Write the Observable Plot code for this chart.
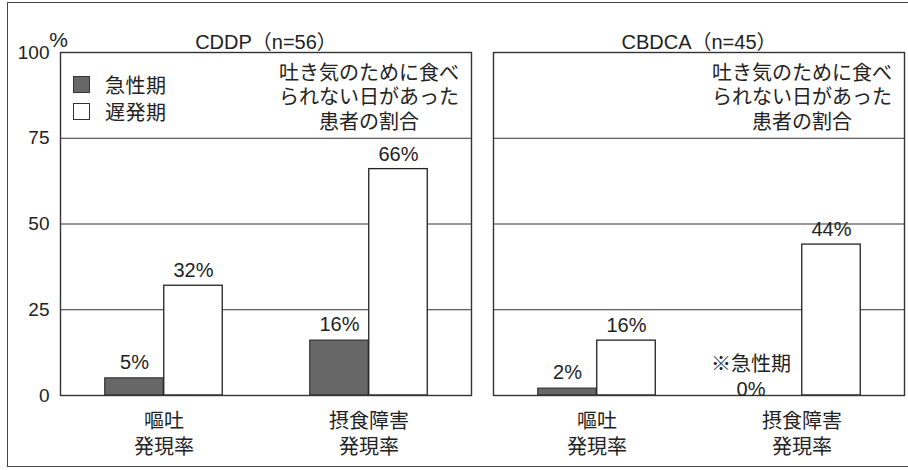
<!DOCTYPE html>
<html>
<head>
<meta charset="utf-8">
<script src="https://cdn.jsdelivr.net/npm/d3@7"></script>
<script src="https://cdn.jsdelivr.net/npm/@observablehq/plot@0.6"></script>
<style>
  html, body { margin: 0; padding: 0; background: #fff; }
  #wrap { position: relative; width: 908px; height: 470px; overflow: hidden; background: #fff;
          font-family: "Liberation Sans", "Noto Sans CJK JP", sans-serif; color: #222; }
  #outer { position: absolute; left: 7px; top: 2px; width: 920px; height: 465px;
           border: 1.5px solid #444; box-sizing: border-box; }
  #chart { position: absolute; left: 0; top: 0; }
  .lg { position: absolute; display: flex; align-items: center; font-size: 20px; letter-spacing: 0.5px; }
  .sw { width: 17px; height: 17px; box-sizing: border-box; border: 1.3px solid #333; margin-right: 15px; }
</style>
</head>
<body>
<div id="wrap">
  <div id="outer"></div>
  <div id="chart"></div>
</div>
<script>
// ---- data ----
const drugs = ["CDDP", "CBDCA"];
const drugTitles = ["CDDP（n=56）", "CBDCA（n=45）"];
const categories = ["嘔吐発現率", "摂食障害発現率"];
const categoryLabels = ["嘔吐\n発現率", "摂食障害\n発現率"];
const series = ["急性期", "遅発期"];
const seriesColors = ["#676767", "#ffffff"];
const acuteCDDP = [5, 16];
const lateCDDP = [32, 66];
const acuteCBDCA = [2, 0];
const lateCBDCA = [16, 44];
const yTicks = [0, 25, 50, 75, 100];
const gridTicks = [25, 50, 75];
const annotation = "吐き気のために食べ\nられない日があった\n患者の割合";
const zeroNote = "※急性期";

// ---- build rows ----
const rows = [];
const valuesBy = {CDDP: [acuteCDDP, lateCDDP], CBDCA: [acuteCBDCA, lateCBDCA]};
drugs.forEach(d => {
  series.forEach((s, si) => {
    categories.forEach((c, ci) => {
      rows.push({drug: d, series: s, category: c, value: valuesBy[d][si][ci]});
    });
  });
});
const acuteRows = rows.filter(r => r.series === series[0]);
const lateRows = rows.filter(r => r.series === series[1]);
const acuteLabelRows = acuteRows.filter(r => r.value > 0);
const acuteZeroRows = acuteRows.filter(r => r.value === 0);

// ---- layout ----
const W = 908, H = 470;
const mL = 60, mR = 4, mT = 52, mB = 75;
const fxPadInner = 22 / 433;
const fxStep = (W - mL - mR) / (2 - fxPadInner);
const facetW = fxStep * (1 - fxPadInner);
const xBandW = facetW / categories.length;
const barW = 59;
const half = xBandW / 2;

const font = '"Liberation Sans", "Noto Sans CJK JP", sans-serif';

const chart = Plot.plot({
  width: W, height: H,
  marginLeft: mL, marginRight: mR, marginTop: mT, marginBottom: mB,
  style: {fontFamily: font, fontSize: "18px", color: "#222", background: "transparent", overflow: "visible"},
  fx: {domain: drugs, paddingInner: fxPadInner, paddingOuter: 0, label: null},
  x: {domain: categories, padding: 0, label: null},
  y: {domain: [0, 100], label: null},
  marks: [
    Plot.gridY(gridTicks, {stroke: "#333", strokeOpacity: 1, strokeWidth: 1.2}),
    Plot.barY(acuteRows.filter(r => r.value > 0), {fx: "drug", x: "category", y: "value", fill: seriesColors[0], stroke: "#333", strokeWidth: 1.2,
      insetLeft: half - barW, insetRight: half}),
    Plot.barY(lateRows, {fx: "drug", x: "category", y: "value", fill: seriesColors[1], stroke: "#222", strokeWidth: 1.3,
      insetLeft: half, insetRight: half - barW}),
    Plot.frame({stroke: "#333", strokeWidth: 1.4}),
    Plot.axisY(yTicks, {tickSize: 0, tickPadding: 11, fontSize: 19, label: null}),
    Plot.axisX({tickSize: 0, tickPadding: 14, fontSize: 20, lineHeight: 1.3, label: null,
      tickFormat: c => categoryLabels[categories.indexOf(c)]}),
    Plot.axisFx({anchor: "top", tickSize: 0, tickPadding: 4, fontSize: 20, label: null,
      tickFormat: d => drugTitles[drugs.indexOf(d)]}),
    Plot.text([{drug: drugs[0]}], {fx: "drug", text: () => "%", frameAnchor: "top-left", textAnchor: "middle", lineAnchor: "middle",
      dx: -2, dy: -12, fontSize: 21}),
    Plot.text(acuteLabelRows, {fx: "drug", x: "category", y: "value", text: r => r.value + "%", dx: -barW / 2, dy: -16, fontSize: 20}),
    Plot.text(lateRows, {fx: "drug", x: "category", y: "value", text: r => r.value + "%", dx: barW / 2, dy: -15, fontSize: 20}),
    Plot.text(acuteZeroRows, {fx: "drug", x: "category", y: "value", text: r => zeroNote + "\n" + r.value + "%",
      dx: -51, dy: 0, lineAnchor: "bottom", lineHeight: 1.25, fontSize: 20}),
    Plot.text(drugs.map(d => ({drug: d, category: categories[1]})), {fx: "drug", x: "category", text: () => annotation,
      frameAnchor: "top", lineAnchor: "top", dy: 10, lineHeight: 1.22, fontSize: 20, letterSpacing: 0.5})
  ]
});
document.getElementById("chart").appendChild(chart);

// ---- legend (HTML) ----
const wrap = document.getElementById("wrap");
series.forEach((s, i) => {
  const item = document.createElement("div");
  item.className = "lg";
  item.style.left = "73px";
  item.style.top = (70 + i * 27) + "px";
  const sw = document.createElement("div");
  sw.className = "sw";
  sw.style.background = seriesColors[i];
  const t = document.createElement("span");
  t.textContent = s;
  item.appendChild(sw);
  item.appendChild(t);
  wrap.appendChild(item);
});
</script>
</body>
</html>
